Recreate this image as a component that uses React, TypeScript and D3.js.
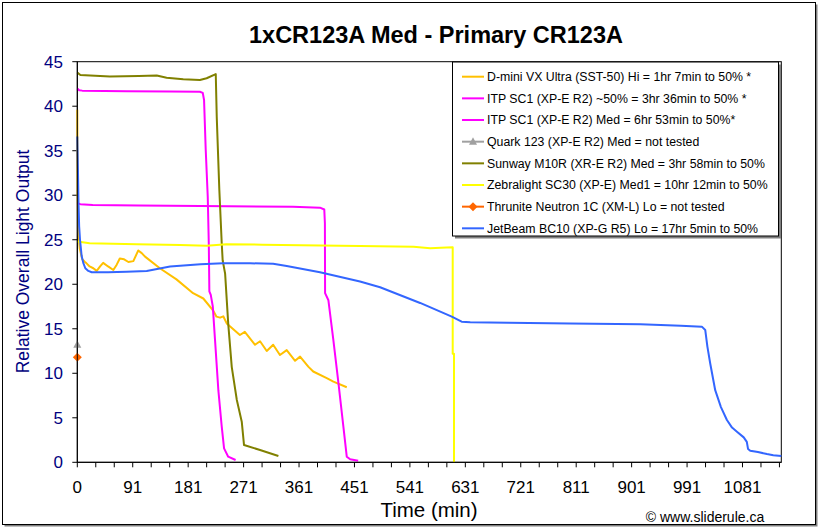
import React from "react";
import * as d3 from "d3";

const title = "1xCR123A Med - Primary CR123A";
const xTickLabels = ["0", "91", "181", "271", "361", "451", "541", "631", "721", "811", "901", "991", "1081"];
const yTicks = [0, 5, 10, 15, 20, 25, 30, 35, 40, 45];

const seriesNames = [
  "D-mini VX Ultra (SST-50) Hi = 1hr 7min to 50% *",
  "ITP SC1 (XP-E R2) ~50% = 3hr 36min to 50% *",
  "ITP SC1 (XP-E R2) Med = 6hr 53min to 50%*",
  "Quark 123 (XP-E R2) Med = not tested",
  "Sunway M10R (XR-E R2) Med = 3hr 58min to 50%",
  "Zebralight SC30 (XP-E) Med1 = 10hr 12min to 50%",
  "Thrunite Neutron 1C (XM-L) Lo = not tested",
  "JetBeam BC10 (XP-G R5) Lo = 17hr 5min to 50%",
];
const seriesColors = ["#FFC000", "#FF00FF", "#FF00FF", "#A0A0A0", "#808000", "#FFFF00", "#FF6600", "#3366FF"];
const seriesMarkers = ["none", "none", "none", "triangle", "none", "none", "diamond", "none"];

const dmini: [number, number][] = [
  [0, 39.6], [0.5, 30], [1.5, 26], [4, 24], [8, 22.8], [12.5, 22.5], [15, 22.35], [20, 22], [26, 21.8],
  [31.5, 21.5], [37, 22], [42, 22.4], [50, 22], [58.5, 21.6], [64, 22.2], [69, 22.9], [76, 22.8], [83, 22.5],
  [91, 22.6], [99, 23.8], [104.6, 23.5], [110, 23.1], [134, 21.8], [161, 20.55], [188, 19], [204.6, 18.4],
  [221, 17.0], [226, 16.36], [231.8, 16.25], [237, 16.4], [242.6, 15.6], [264, 14.3], [272, 14.65],
  [288.6, 13.2], [296.7, 13.6], [307.6, 12.5], [318, 13.2], [329, 12.05], [340, 12.6], [353.6, 11.4],
  [361.7, 11.87], [375, 10.75], [383, 10.2], [405, 9.45], [415.8, 9.06], [437.5, 8.43],
];
const itpHalf: [number, number][] = [
  [0, 42], [3, 41.8], [8, 41.75], [80, 41.68], [150, 41.65], [199, 41.63], [203.7, 41.5], [205.8, 40.7],
  [208.5, 35.1], [211.8, 29.8], [213.5, 24.5], [214.4, 19.2], [216.7, 18.8], [220, 17.5], [223.6, 13.75],
  [229, 8.1], [234.5, 4.0], [238.3, 1.57], [245, 0.63], [257, 0.26],
];
const itpMed: [number, number][] = [
  [0, 29.1], [5, 29.0], [25, 28.9], [100, 28.85], [200, 28.8], [350, 28.7], [394, 28.6], [401, 28.4],
  [402, 26.85], [402.3, 19], [407.7, 18.2], [415.8, 13.7], [424, 8.9], [432, 4.0], [437.5, 0.63],
  [443, 0.34], [456, 0.18],
];
const quark: [number, number][] = [[0, 13.2]];
const sunway: [number, number][] = [
  [0, 43.77], [5, 43.5], [53, 43.33], [100, 43.4], [129, 43.44], [145, 43.2], [172, 43.03], [199, 42.95],
  [210, 43.14], [224.8, 43.6], [226.4, 38.8], [230.6, 30.6], [234.5, 24.6], [236, 22.7], [240, 21.2],
  [245, 15.6], [250.8, 10.7], [259, 7], [267, 4.56], [270.7, 1.94], [296.7, 1.38], [326.5, 0.7],
];
const zebra: [number, number][] = [
  [0, 24.8], [20, 24.6], [96.5, 24.5], [167, 24.4], [210, 24.33], [242, 24.5], [300, 24.45], [459, 24.3],
  [546, 24.2], [573, 24.05], [590, 24.1], [609.5, 24.15], [609.5, 12.2], [611.6, 12.2], [611.6, 0],
];
const thrunite: [number, number][] = [[0, 11.8]];
const jetbeam: [number, number][] = [
  [0, 36.6], [1, 33], [2, 29], [3, 26.5], [4.4, 25], [7, 23.2], [9.7, 22.4], [13, 21.8], [17.9, 21.5],
  [23.4, 21.35], [50, 21.35], [80, 21.4], [112.7, 21.5], [150.6, 22.0], [200, 22.25], [236.6, 22.35],
  [280.5, 22.36], [318, 22.3], [340, 22.05], [394, 21.35], [459, 20.3], [491.6, 19.66], [556.6, 17.9],
  [608, 16.36], [624, 15.8], [638, 15.73], [700, 15.68], [800, 15.6], [914, 15.5], [980, 15.35],
  [1014, 15.24], [1019.5, 14.87], [1023, 13], [1027.6, 11.1], [1035.7, 8.1], [1045, 6.2], [1054.7, 4.75],
  [1063, 3.9], [1071, 3.44], [1082, 2.8], [1087, 2.3], [1089, 1.5], [1092.6, 1.3], [1105, 1.15],
  [1119.7, 0.93], [1130, 0.8], [1143, 0.7],
];
const seriesData = [dmini, itpHalf, itpMed, quark, sunway, zebra, thrunite, jetbeam];

const W = 822, H = 530;
const L = 77.3, R = 781.3, T = 61.7, B = 462.3;
const FONT = "'Liberation Sans', Arial, sans-serif";

export default function App() {
  const x = d3.scaleLinear().domain([0, 1143]).range([L, R]);
  const y = d3.scaleLinear().domain([0, 45]).range([B, T]);
  const line = d3.line<[number, number]>().x(d => x(d[0])).y(d => y(d[1]));
  const minorTicks = d3.range(0, 1141, 30);

  const marker = (kind: string, cx: number, cy: number, color: string, key?: string) => {
    if (kind === "triangle") {
      return <path key={key} d={`M${cx},${cy - 4.5} L${cx + 4},${cy + 3} L${cx - 4},${cy + 3} Z`} fill={color} />;
    }
    if (kind === "diamond") {
      return <path key={key} d={`M${cx},${cy - 4.5} L${cx + 4.5},${cy} L${cx},${cy + 4.5} L${cx - 4.5},${cy} Z`} fill={color} />;
    }
    return null;
  };

  const legX = 452.5, legY = 62, legW = 326, legH = 174;
  const rowY = (i: number) => 76.7 + i * 21.66;

  return (
    <svg width={W} height={H} style={{ position: "absolute", left: 0, top: 0, background: "#fff" }} fontFamily={FONT}>
      <rect x={4.5} y={4.5} width={813} height={522} fill="#808080" />
      <rect x={2.5} y={2.5} width={813} height={522} fill="#fff" stroke="#000" strokeWidth={1} />

      <text x={436} y={42.5} textAnchor="middle" fontSize={23.5} fontWeight="bold" fill="#000">{title}</text>

      <rect x={L} y={T} width={R - L} height={B - T} fill="#fff" stroke="#000" strokeWidth={1} />

      {yTicks.map(v => (
        <g key={"y" + v}>
          <line x1={L - 5} x2={L} y1={y(v)} y2={y(v)} stroke="#000" />
          <text x={63} y={y(v)} dy="0.36em" textAnchor="end" fontSize={17} fill="#000080">{v}</text>
        </g>
      ))}
      <text transform={`translate(29,261.5) rotate(-90)`} textAnchor="middle" fontSize={17.5} fill="#000080">Relative Overall Light Output</text>

      {minorTicks.map(v => (
        <line key={"xt" + v} x1={x(v)} x2={x(v)} y1={B} y2={B + 5} stroke="#000" />
      ))}
      {xTickLabels.map((lab, i) => (
        <text key={"xl" + i} x={x(i * 90)} y={493} textAnchor="middle" fontSize={17} fill="#000">{lab}</text>
      ))}
      <text x={429} y={517} textAnchor="middle" fontSize={20.5} fill="#000">Time (min)</text>

      {seriesData.map((d, i) =>
        d.length > 1 ? (
          <path key={"s" + i} d={line(d) || ""} fill="none" stroke={seriesColors[i]} strokeWidth={2} strokeLinejoin="round" />
        ) : null
      )}
      {seriesData.map((d, i) =>
        seriesMarkers[i] !== "none" ? d.map((p, j) => marker(seriesMarkers[i], x(p[0]), y(p[1]), seriesColors[i], "m" + i + "_" + j)) : null
      )}
      <line x1={L} x2={L} y1={T} y2={B} stroke="#000" />
      <line x1={L} x2={R} y1={B} y2={B} stroke="#000" />

      <rect x={legX + 2.5} y={legY + 2.5} width={legW} height={legH} fill="#808080" />
      <rect x={legX} y={legY} width={legW} height={legH} fill="#fff" stroke="#000" strokeWidth={1} />
      {seriesNames.map((name, i) => (
        <g key={"lg" + i}>
          <line x1={462} x2={484} y1={rowY(i)} y2={rowY(i)} stroke={seriesColors[i]} strokeWidth={2} />
          {marker(seriesMarkers[i], 473, rowY(i), seriesColors[i])}
          <text x={487} y={rowY(i)} dy="0.36em" fontSize={12.3} fill="#000">{name}</text>
        </g>
      ))}

      <text x={705} y={521.5} textAnchor="middle" fontSize={14} fill="#000">© www.sliderule.ca</text>
    </svg>
  );
}
